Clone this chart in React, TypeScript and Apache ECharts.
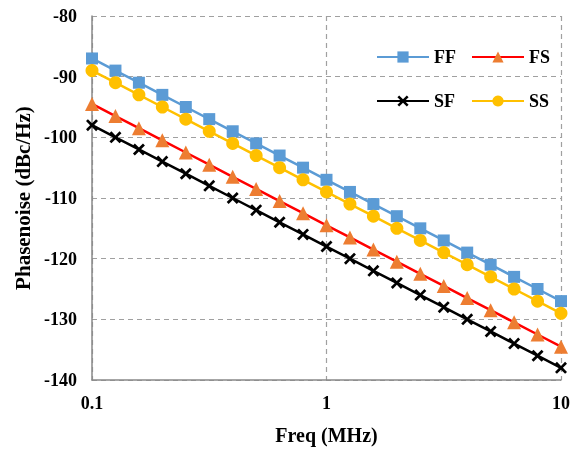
import React, { useEffect, useRef } from "react";
import * as echarts from "echarts";

const freqs = [
  0.1, 0.1259, 0.1585, 0.1995, 0.2512, 0.3162, 0.3981, 0.5012, 0.631, 0.7943,
  1, 1.259, 1.585, 1.995, 2.512, 3.162, 3.981, 5.012, 6.31, 7.943, 10,
];
const ffValues = [
  -87, -89, -91, -93, -95, -97, -99, -101, -103, -105, -107, -109, -111, -113,
  -115, -117, -119, -121, -123, -125, -127,
];
const fsValues = [
  -94.5, -96.5, -98.5, -100.5, -102.5, -104.5, -106.5, -108.5, -110.5, -112.5,
  -114.5, -116.5, -118.5, -120.5, -122.5, -124.5, -126.5, -128.5, -130.5,
  -132.5, -134.5,
];
const sfValues = [
  -98, -100, -102, -104, -106, -108, -110, -112, -114, -116, -118, -120, -122,
  -124, -126, -128, -130, -132, -134, -136, -138,
];
const ssValues = [
  -89, -91, -93, -95, -97, -99, -101, -103, -105, -107, -109, -111, -113, -115,
  -117, -119, -121, -123, -125, -127, -129,
];
const yMin = -140;
const yMax = -80;
const yStep = 10;

const FONT = "'Liberation Serif', 'Times New Roman', serif";
const CROSS =
  "path://M0,1.6L1.6,0L5,3.4L8.4,0L10,1.6L6.6,5L10,8.4L8.4,10L5,6.6L1.6,10L0,8.4L3.4,5Z";

export default function App() {
  const ref = useRef<HTMLDivElement>(null);
  useEffect(() => {
    if (!ref.current) return;
    const chart = echarts.init(ref.current, undefined, { renderer: "svg" });
    const pair = (vals: number[]) => freqs.map((f, i) => [f, vals[i]]);
    const legendBase = {
      orient: "horizontal" as const,
      padding: 0,
      itemGap: 0,
      itemWidth: 52,
      itemHeight: 14,
      selectedMode: false,
      textStyle: {
        fontFamily: FONT,
        fontWeight: "bold" as const,
        fontSize: 18,
        color: "#000",
      },
    };
    chart.setOption({
      animation: false,
      grid: { left: 92, right: 16, top: 16, bottom: 70 },
      legend: [
        { ...legendBase, data: ["FF"], left: 376, top: 48 },
        { ...legendBase, data: ["FS"], left: 471, top: 48 },
        { ...legendBase, data: ["SF"], left: 376, top: 92 },
        { ...legendBase, data: ["SS"], left: 471, top: 92 },
      ],
      xAxis: {
        type: "log",
        logBase: 10,
        min: 0.1,
        max: 10,
        name: "Freq (MHz)",
        nameLocation: "middle",
        nameGap: 45,
        nameTextStyle: {
          fontFamily: FONT,
          fontWeight: "bold",
          fontSize: 20,
          color: "#000",
        },
        axisLine: { show: true, lineStyle: { color: "#898989", width: 1.5 } },
        axisTick: { show: false },
        minorTick: { show: false },
        axisLabel: {
          margin: 14,
          fontFamily: FONT,
          fontWeight: "bold",
          fontSize: 18,
          color: "#000",
          formatter: (v: number) => String(Number(v.toPrecision(6))),
        },
        splitLine: {
          show: true,
          lineStyle: { color: "#A0A0A0", width: 1.2, type: [5, 4] },
        },
      },
      yAxis: {
        type: "value",
        min: yMin,
        max: yMax,
        interval: yStep,
        name: "Phasenoise (dBc/Hz)",
        nameLocation: "middle",
        nameGap: 56,
        nameTextStyle: {
          fontFamily: FONT,
          fontWeight: "bold",
          fontSize: 21,
          color: "#000",
        },
        axisLine: { show: true, lineStyle: { color: "#898989", width: 1.5 } },
        axisTick: { show: false },
        axisLabel: {
          margin: 15,
          fontFamily: FONT,
          fontWeight: "bold",
          fontSize: 18,
          color: "#000",
        },
        splitLine: {
          show: true,
          lineStyle: { color: "#A0A0A0", width: 1.2, type: [5, 4] },
        },
      },
      series: [
        {
          name: "FF",
          type: "line",
          data: pair(ffValues),
          symbol: "rect",
          symbolSize: 12,
          lineStyle: { color: "#5B9BD5", width: 2.5 },
          itemStyle: { color: "#5B9BD5" },
        },
        {
          name: "FS",
          type: "line",
          data: pair(fsValues),
          symbol: "triangle",
          symbolSize: 14,
          lineStyle: { color: "#FF0000", width: 2.5 },
          itemStyle: { color: "#ED7D31" },
        },
        {
          name: "SF",
          type: "line",
          data: pair(sfValues),
          symbol: CROSS,
          symbolSize: 12,
          lineStyle: { color: "#000000", width: 2.5 },
          itemStyle: { color: "#000000" },
        },
        {
          name: "SS",
          type: "line",
          data: pair(ssValues),
          symbol: "circle",
          symbolSize: 13,
          lineStyle: { color: "#FFC000", width: 2.5 },
          itemStyle: { color: "#FFC000" },
        },
      ],
    });
    return () => chart.dispose();
  }, []);
  return (
    <div
      ref={ref}
      style={{ position: "fixed", left: 0, top: 0, width: 577, height: 450 }}
    />
  );
}
